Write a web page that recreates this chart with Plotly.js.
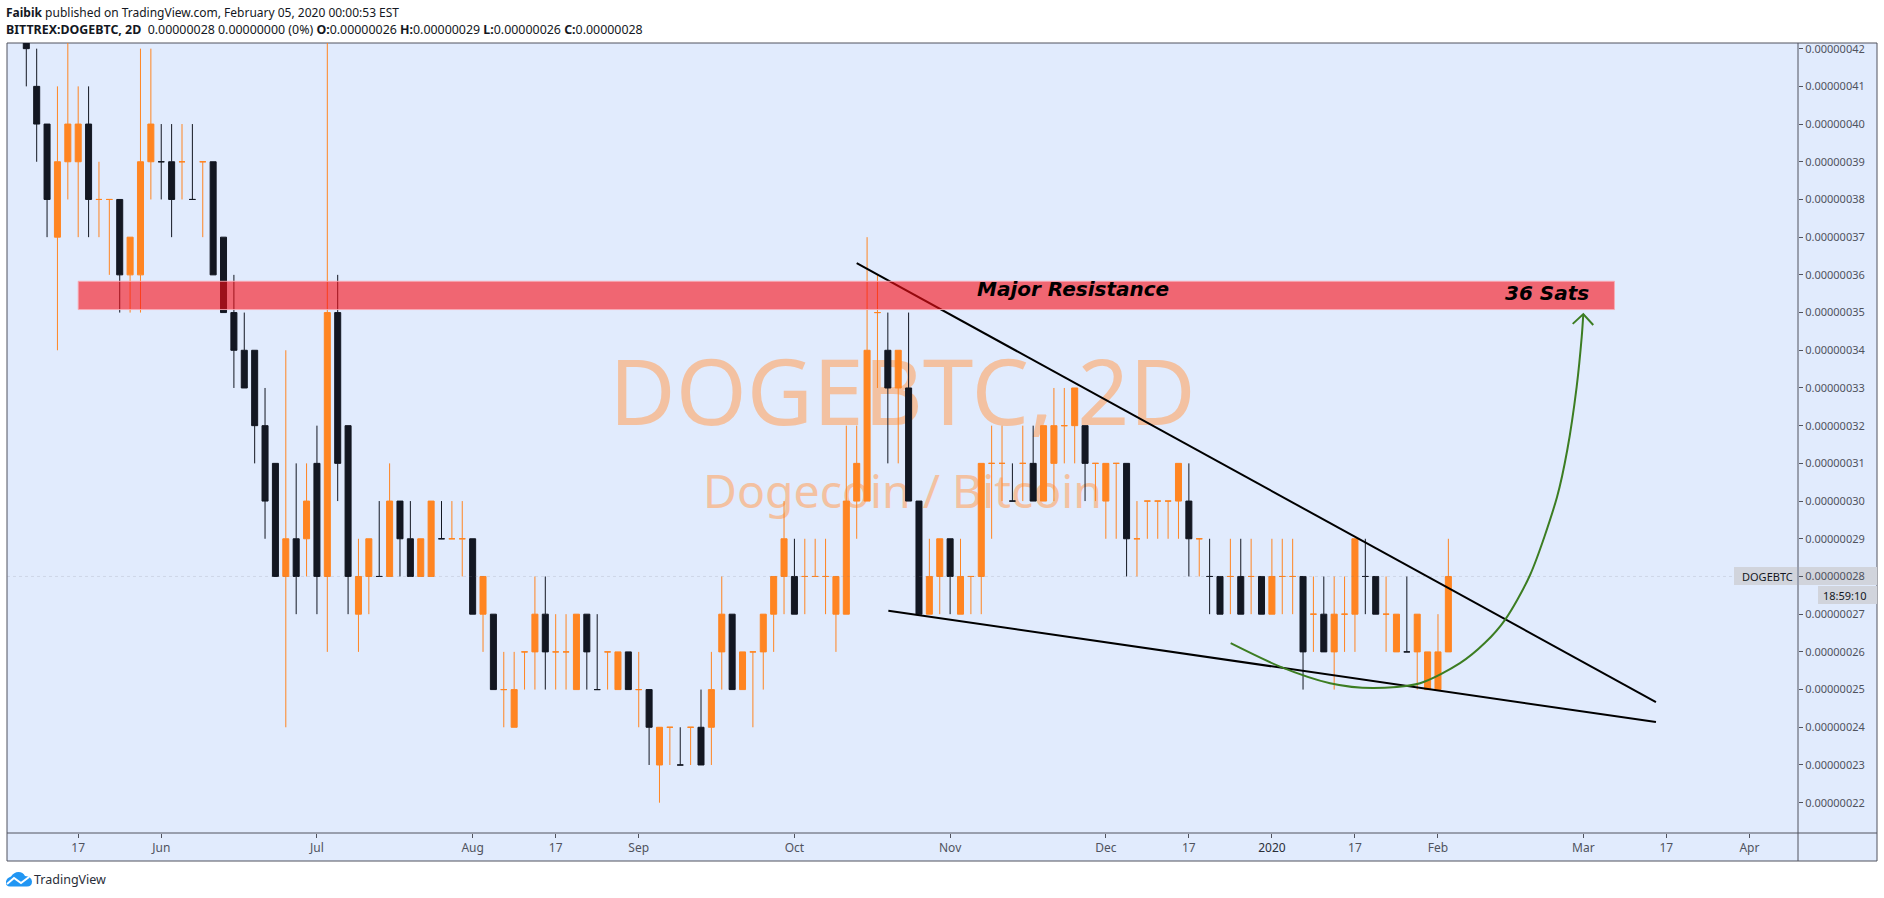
<!DOCTYPE html>
<html>
<head>
<meta charset="utf-8">
<script src="https://cdn.plot.ly/plotly-3.0.1.min.js"></script>
<style>html,body{margin:0;padding:0;background:#fff}#chart{width:1884px;height:898px}</style>
</head>
<body>
<div id="chart"></div>
<script>
// Values in satoshis (1e-8 BTC), one 2D bar per index
const open  = [43,41,40,37,39,39,40,38,38,38,36,36,39,39,39,39,38,39,39,37,35,34,34,32,31,28,29,29,31,28,35,32,27,28,28,28,30,29,28,28,29,29,29,29,27,27,25,24,26,26,27,26,26,25,27,25,26,25,26,25,25,23,24,23,24,24,24,26,27,25,26,26,27,28,28,28,28,28,27,27,30,30,35,34,33,33,30,27,28,29,27,28,28,31,31,30,31,31,30,31,32,32,32,31,30,31,31,29,30,30,30,30,30,29,28,28,28,28,28,28,27,28,28,28,27,27,26,27,27,28,28,27,26,26,26,25,25,26];
const high  = [43,42,40,41,43,41,41,39,38,38,37,42,42,40,40,40,40,39,39,37,36,35,34,33,31,34,31,31,32,43,36,32,29,29,30,31,30,30,29,30,30,30,30,29,28,27,26,26,26,28,28,27,27,27,27,27,26,26,26,26,25,24,24,24,24,25,26,28,27,26,26,27,28,30,29,29,29,29,28,32,32,37,36,35,34,35,30,29,29,29,29,28,31,32,32,31,32,32,32,33,33,33,32,31,31,31,31,30,30,30,30,31,31,29,29,28,29,29,29,28,29,29,29,28,28,28,28,28,29,29,28,28,27,28,27,26,27,29];
const low   = [41,39,37,34,38,37,37,37,36,35,35,35,38,38,37,38,38,37,36,35,33,33,31,29,28,24,27,28,27,26,30,27,26,27,28,28,28,28,28,28,29,29,28,27,26,25,24,24,25,25,25,25,25,25,25,25,25,25,25,24,23,22,23,23,23,23,23,25,25,25,24,25,26,27,27,27,28,27,26,27,29,30,33,31,31,30,27,27,27,27,27,27,27,29,30,30,30,30,30,30,31,31,30,30,29,29,28,28,29,29,29,29,28,28,27,27,27,27,27,27,27,27,27,25,26,26,25,26,26,27,27,26,26,26,25,25,25,26];
const close = [42,40,38,39,40,40,38,38,38,36,37,39,40,39,38,39,38,39,36,35,34,33,32,30,28,29,28,30,28,35,31,28,28,29,28,30,29,28,29,30,29,29,29,27,28,25,25,25,26,27,26,26,26,27,26,25,26,26,25,25,24,24,24,23,24,23,25,27,25,26,26,27,28,29,27,28,28,28,28,30,31,34,35,33,34,30,27,28,29,28,28,28,31,31,31,30,31,30,32,32,32,33,31,31,31,31,29,29,30,30,30,31,29,29,28,27,28,27,28,27,28,28,28,26,27,26,27,27,29,28,27,27,27,26,27,26,26,28];
const isUp  = [0,0,0,1,1,1,0,1,1,0,1,1,1,0,0,1,0,1,0,0,0,0,0,0,0,1,0,1,0,1,0,0,1,1,0,1,0,0,1,1,0,1,1,0,1,0,1,1,1,1,0,1,1,1,0,0,1,1,0,1,0,1,1,0,1,0,1,1,0,1,1,1,1,1,0,1,1,1,1,1,1,1,1,0,1,0,0,1,1,0,1,1,1,1,1,0,1,0,1,1,1,1,0,1,1,1,0,1,1,1,1,1,0,1,0,0,1,0,1,0,1,1,1,0,1,0,1,1,1,0,0,1,1,0,1,1,1,1];

// Time axis labels, placed on bar indexes
const xTickVals = [5,13,28,43,51,59,74,89,104,112,120,128,136,150,158,166];
const xTickText = ['17','Jun','Jul','Aug','17','Sep','Oct','Nov','Dec','17','<span style="color:#2a2e39">2020</span>','17','Feb','Mar','17','Apr'];

// Price axis labels
const yTickVals = [22,23,24,25,26,27,28,29,30,31,32,33,34,35,36,37,38,39,40,41,42];
const yTickText = yTickVals.map(v => '0.000000' + v);

// Drawings (bar index, sats)
const upperTrendX = [80, 157];
const upperTrendY = [36.31, 24.67];
const lowerTrendX = [83.05, 157];
const lowerTrendY = [27.09, 24.14];
const curveX = [116.03,120.78,125.6,129.74,134.27,138.12,140.53,142.46,144.87,147.47,148.46,149.36,149.85,150];
const curveY = [26.23,25.61,25.17,25.04,25.17,25.70,26.24,26.85,28.04,30.11,31.36,33.03,34.36,34.96];
const arrowX = [148.98,150,150.96];
const arrowY = [34.70,34.96,34.67];
const bandX = [5, 153];
const bandY = [35.08, 35.83];
const lastPrice = 28;

const ORANGE = '#ff8522', BLACK = '#131722', AXIS = '#50535e', PANE = '#e1ebfd', TAG = '#d1d4dc', GREEN = '#3c7d22';
const W = 1884, H = 898, L = 7, R = 1798, T = 43, B = 833, FR = 1877, FB = 861;
const px = x => (x - L) / (R - L);
const py = y => 1 - (y - T) / (B - T);
const SANS = '"Noto Sans", "Open Sans", sans-serif';

function candles(flag, color) {
  const idx = open.map((_, i) => i).filter(i => isUp[i] === flag);
  const side = {line: {color: color, width: 1}, fillcolor: color};
  return {
    type: 'candlestick', x: idx,
    open: idx.map(i => open[i]), high: idx.map(i => high[i]),
    low: idx.map(i => low[i]), close: idx.map(i => close[i]),
    increasing: side, decreasing: side, hoverinfo: 'skip', showlegend: false
  };
}
const line = (x, y, color, extra) => Object.assign({
  type: 'scatter', mode: 'lines', x: x, y: y, hoverinfo: 'skip', showlegend: false,
  line: {color: color, width: 2}
}, extra || {});

const traces = [
  candles(1, ORANGE), candles(0, BLACK),
  line(upperTrendX, upperTrendY, '#000000'),
  line(lowerTrendX, lowerTrendY, '#000000'),
  line(curveX, curveY, GREEN, {line: {color: GREEN, width: 2, shape: 'spline', smoothing: 0.8}}),
  line(arrowX, arrowY, GREEN)
];

const pRect = (x0, y0, x1, y1, o) => Object.assign({type: 'rect', xref: 'paper', yref: 'paper',
  x0: px(x0), x1: px(x1), y0: py(y0), y1: py(y1), layer: 'below', line: {width: 0}}, o || {});
const pLine = (x0, y0, x1, y1, o) => Object.assign({type: 'line', xref: 'paper', yref: 'paper',
  x0: px(x0), x1: px(x1), y0: py(y0), y1: py(y1), layer: 'below', line: {color: AXIS, width: 1}}, o || {});
const pPath = s => s.replace(/(-?[\d.]+) (-?[\d.]+)/g, (_, a, b) => px(+a).toFixed(6) + ' ' + py(+b).toFixed(6));

const shapes = [
  pRect(L, T, FR, FB, {fillcolor: PANE, line: {color: AXIS, width: 1}}),
  pRect(1734, 567, 1797, 585, {fillcolor: TAG}),
  pRect(1799, 567, FR, 585, {fillcolor: TAG}),
  pRect(1818, 586, FR, 604, {fillcolor: TAG}),
  pRect(L, 331, R, 461, {fillcolor: 'rgba(0,0,0,0)',
    label: {text: 'DOGEBTC, 2D', textposition: 'middle center', font: {family: SANS, size: 91, color: '#f3c1a1'}}}),
  pRect(L, 470, R, 518, {fillcolor: 'rgba(0,0,0,0)',
    label: {text: 'Dogecoin / Bitcoin', textposition: 'middle center', font: {family: SANS, size: 46.4, color: '#f3c1a1'}}}),
  pLine(L, B, FR, B),
  pLine(R, T, R, FB),
  {type: 'line', xref: 'paper', yref: 'y', x0: 0, x1: px(1734), y0: lastPrice, y1: lastPrice, layer: 'above',
    line: {color: 'rgba(120,123,134,0.18)', width: 1, dash: 'dot'}},
  {type: 'rect', xref: 'x', yref: 'y', x0: bandX[0], x1: bandX[1], y0: bandY[0], y1: bandY[1], layer: 'above',
    fillcolor: 'rgba(250,13,21,0.6)', line: {color: 'rgba(250,170,180,0.9)', width: 1}},
  {type: 'path', xref: 'paper', yref: 'paper', layer: 'below', fillcolor: '#2196f3', line: {width: 0},
    path: pPath('M 10 886.5 Q 5.5 886.5 6 881.5 Q 6.5 878 11 876.5 Q 14 872 18.5 872 Q 23 872 25 876 Q 31.5 876.5 32 881.5 Q 32 886.5 27 886.5 Z')},
  {type: 'path', xref: 'paper', yref: 'paper', layer: 'below', line: {color: '#ffffff', width: 2},
    path: pPath('M 7 884 L 14 878 L 21 883 L 29 877')}
];

const ann = (x, y, text, o) => Object.assign({xref: 'paper', yref: 'paper', x: px(x), y: py(y), text: text,
  showarrow: false, xanchor: 'left', yanchor: 'middle', borderpad: 0, borderwidth: 0,
  font: {family: SANS, size: 12, color: '#131722'}}, o || {});

const annotations = [
  ann(6, 12.5, '<b>Faibik</b> published on TradingView.com, February 05, 2020 00:00:53 EST'),
  ann(6, 29.5, '<b>BITTREX:DOGEBTC, 2D</b>\u00a0\u00a00.00000028 0.00000000 (0%) <b>O:</b>0.00000026 <b>H:</b>0.00000029 <b>L:</b>0.00000026 <b>C:</b>0.00000028',
    {font: {family: SANS, size: 12.4, color: '#131722'}}),
  ann(977, 288.5, '<b><i>Major Resistance</i></b>', {font: {family: '"DejaVu Sans"', size: 20, color: '#000000'}}),
  ann(1505, 293, '<b><i>36 Sats</i></b>', {font: {family: '"DejaVu Sans"', size: 20, color: '#000000'}}),
  ann(1767.5, 576, 'DOGEBTC', {xanchor: 'center', font: {family: SANS, size: 11, color: '#131722'}}),
  ann(1845.5, 595, '18:59:10', {xanchor: 'center', font: {family: SANS, size: 11, color: '#131722'}}),
  ann(34, 879, 'TradingView', {font: {family: SANS, size: 12.5, color: '#2a2e39'}})
];

const layout = {
  width: W, height: H, autosize: false,
  margin: {l: L, r: W - R, t: T, b: H - B, pad: 0},
  paper_bgcolor: '#ffffff', plot_bgcolor: PANE,
  showlegend: false, hovermode: false, dragmode: false, boxgap: 0.42, boxgroupgap: 0,
  font: {family: SANS, color: AXIS},
  xaxis: {
    type: 'linear', range: [(L - 26.3) / 10.38, (R - 26.3) / 10.38], fixedrange: true, automargin: false,
    showgrid: false, zeroline: false, showline: false, rangeslider: {visible: false},
    tickmode: 'array', tickvals: xTickVals, ticktext: xTickText, tickangle: 0,
    ticks: 'outside', ticklen: 4, tickwidth: 1, tickcolor: AXIS,
    tickfont: {family: SANS, size: 12, color: AXIS}
  },
  yaxis: {
    type: 'linear', side: 'right', range: [21.196, 42.15], fixedrange: true, automargin: false,
    showgrid: false, zeroline: false, showline: false,
    tickmode: 'array', tickvals: yTickVals, ticktext: yTickText,
    ticks: 'outside', ticklen: 4, tickwidth: 1, tickcolor: AXIS,
    tickfont: {family: SANS, size: 11, color: AXIS}
  },
  shapes: shapes, annotations: annotations
};

Plotly.newPlot('chart', traces, layout, {displayModeBar: false, responsive: false, staticPlot: true});
</script>
</body>
</html>
